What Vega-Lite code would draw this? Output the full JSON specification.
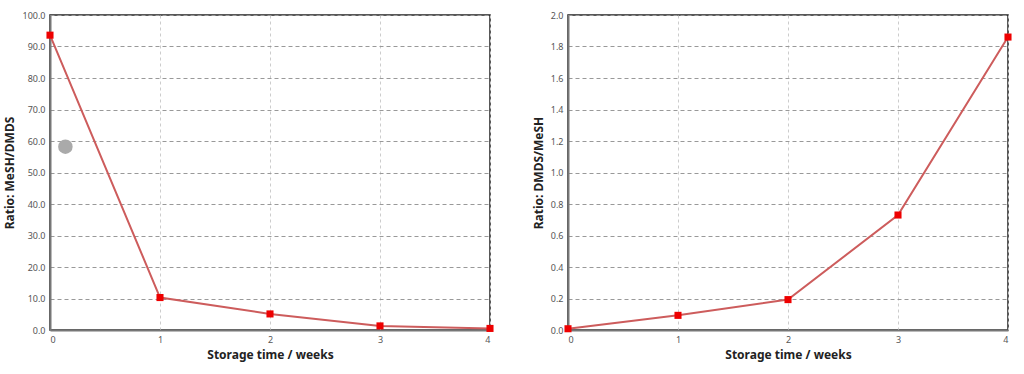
{
  "$schema": "https://vega.github.io/schema/vega-lite/v6.json",
  "padding": {"left": 3, "top": 10, "right": 10, "bottom": 5},
  "background": "white",
  "datasets": {
    "left": [
      {"week": 0, "ratio": 93.6},
      {"week": 1, "ratio": 10.3},
      {"week": 2, "ratio": 5.1},
      {"week": 3, "ratio": 1.3},
      {"week": 4, "ratio": 0.5}
    ],
    "marker": [{"week": 0.14, "ratio": 58.2}],
    "right": [
      {"week": 0, "ratio": 0.008},
      {"week": 1, "ratio": 0.093},
      {"week": 2, "ratio": 0.193},
      {"week": 3, "ratio": 0.73},
      {"week": 4, "ratio": 1.86}
    ]
  },
  "config": {
    "font": "Noto Sans",
    "view": {"stroke": "#222222", "strokeWidth": 1.5},
    "axis": {
      "labelFontSize": 9,
      "labelColor": "#555555",
      "titleFontSize": 12,
      "titleFontWeight": "bold",
      "titleColor": "#222222",
      "ticks": false,
      "domainColor": "#777777",
      "domainWidth": 2
    },
    "axisX": {"gridColor": "#cccccc", "gridDash": [3, 3], "gridWidth": 1, "labelPadding": 5, "titlePadding": 5},
    "axisY": {"gridColor": "#999999", "gridDash": [4, 3], "gridWidth": 1, "labelPadding": 5, "titlePadding": 5}
  },
  "hconcat": [
    {
      "width": 440,
      "height": 315,
      "encoding": {
        "x": {"field": "week", "type": "quantitative", "scale": {"domain": [0, 4], "nice": false},
              "axis": {"values": [0, 1, 2, 3, 4], "tickCount": 5, "format": "d", "labelOverlap": false, "title": "Storage time / weeks"}},
        "y": {"field": "ratio", "type": "quantitative", "scale": {"domain": [0, 100], "nice": false},
              "axis": {"values": [0, 10, 20, 30, 40, 50, 60, 70, 80, 90, 100], "tickCount": 11, "format": ".1f", "labelOverlap": false, "title": "Ratio: MeSH/DMDS"}}
      },
      "layer": [
        {
          "data": {"name": "left"},
          "mark": {"type": "line", "color": "#cd5c5c", "strokeWidth": 2}
        },
        {
          "data": {"name": "left"},
          "mark": {"type": "square", "color": "#ee0000", "opacity": 1, "filled": true, "size": 50}
        },
        {
          "data": {"name": "marker"},
          "mark": {"type": "circle", "color": "#aaaaaa", "opacity": 1, "size": 210}
        }
      ]
    },
    {
      "width": 440,
      "height": 315,
      "encoding": {
        "x": {"field": "week", "type": "quantitative", "scale": {"domain": [0, 4], "nice": false},
              "axis": {"values": [0, 1, 2, 3, 4], "tickCount": 5, "format": "d", "labelOverlap": false, "title": "Storage time / weeks"}},
        "y": {"field": "ratio", "type": "quantitative", "scale": {"domain": [0, 2], "nice": false},
              "axis": {"values": [0, 0.2, 0.4, 0.6, 0.8, 1.0, 1.2, 1.4, 1.6, 1.8, 2.0], "tickCount": 11, "format": ".1f", "labelOverlap": false, "title": "Ratio: DMDS/MeSH"}}
      },
      "layer": [
        {
          "data": {"name": "right"},
          "mark": {"type": "line", "color": "#cd5c5c", "strokeWidth": 2}
        },
        {
          "data": {"name": "right"},
          "mark": {"type": "square", "color": "#ee0000", "opacity": 1, "filled": true, "size": 50}
        }
      ]
    }
  ],
  "spacing": 36
}
